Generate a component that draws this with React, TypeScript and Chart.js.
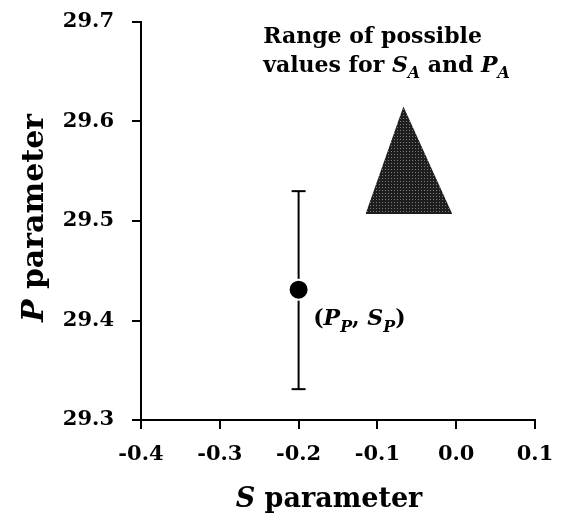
import React, { useEffect, useRef } from "react";
import { Chart, registerables } from "chart.js";

Chart.register(...registerables);

// ---- data ----
const xTickValues = [-0.4, -0.3, -0.2, -0.1, 0.0, 0.1];
const yTickValues = [29.3, 29.4, 29.5, 29.6, 29.7];
const triangleS = [-0.115, -0.067, -0.005];
const triangleP = [29.507, 29.615, 29.507];
const pointS = [-0.2];
const pointP = [29.431];
const errorLow = [29.331];
const errorHigh = [29.53];

const FONT = "'DejaVu Serif', serif";

type Part = { t: string; italic?: boolean; sub?: boolean };

function partsWidth(ctx: CanvasRenderingContext2D, parts: Part[], size: number) {
  let w = 0;
  for (const p of parts) {
    const s = p.sub ? size * 0.72 : size;
    ctx.font = `${p.italic ? "italic " : ""}bold ${s}px ${FONT}`;
    w += ctx.measureText(p.t).width;
  }
  return w;
}

function drawParts(ctx: CanvasRenderingContext2D, parts: Part[], x: number, y: number, size: number) {
  let cx = x;
  ctx.textBaseline = "alphabetic";
  ctx.textAlign = "left";
  for (const p of parts) {
    const s = p.sub ? size * 0.72 : size;
    ctx.font = `${p.italic ? "italic " : ""}bold ${s}px ${FONT}`;
    ctx.fillText(p.t, cx, y + (p.sub ? size * 0.3 : 0));
    cx += ctx.measureText(p.t).width;
  }
}

function makeSpeckle(): CanvasPattern | string {
  const c = document.createElement("canvas");
  c.width = 3;
  c.height = 3;
  const g = c.getContext("2d");
  if (!g) return "#333";
  g.fillStyle = "#1e1e1e";
  g.fillRect(0, 0, 3, 3);
  g.fillStyle = "#7a7a7a";
  g.fillRect(1, 1, 1, 1);
  const p = g.createPattern(c, "repeat");
  return p || "#333";
}

const textPlugin = {
  id: "textPlugin",
  afterDraw(chart: any) {
    const ctx: CanvasRenderingContext2D = chart.ctx;
    const xs = chart.scales.x;
    const ys = chart.scales.y;
    const area = chart.chartArea;
    ctx.save();
    ctx.fillStyle = "#000";

    // x axis title
    const xt: Part[] = [{ t: "S", italic: true }, { t: " parameter" }];
    const xsz = 27;
    const xw = partsWidth(ctx, xt, xsz);
    drawParts(ctx, xt, (area.left + area.right) / 2 - 9 - xw / 2, 507, xsz);

    // y axis title
    const yt: Part[] = [{ t: "P", italic: true }, { t: " parameter" }];
    const ysz = 30;
    const yw = partsWidth(ctx, yt, ysz);
    ctx.save();
    ctx.translate(43, (area.top + area.bottom) / 2 - 3);
    ctx.rotate(-Math.PI / 2);
    drawParts(ctx, yt, -yw / 2, 0, ysz);
    ctx.restore();

    // annotation: range of possible values
    const asz = 22;
    const ax = xs.getPixelForValue(-0.245);
    drawParts(ctx, [{ t: "Range of possible" }], ax, ys.getPixelForValue(29.679), asz);
    drawParts(
      ctx,
      [
        { t: "values for " },
        { t: "S", italic: true },
        { t: "A", italic: true, sub: true },
        { t: " and " },
        { t: "P", italic: true },
        { t: "A", italic: true, sub: true },
      ],
      ax,
      ys.getPixelForValue(29.65),
      asz
    );

    // annotation: point label
    drawParts(
      ctx,
      [
        { t: "(" },
        { t: "P", italic: true },
        { t: "P", italic: true, sub: true },
        { t: ", " },
        { t: "S", italic: true },
        { t: "P", italic: true, sub: true },
        { t: ")" },
      ],
      xs.getPixelForValue(-0.1815),
      ys.getPixelForValue(29.395),
      22
    );
    ctx.restore();
  },
};

export default function App() {
  const ref = useRef<HTMLCanvasElement | null>(null);

  useEffect(() => {
    if (!ref.current) return;
    const tickFont = { family: FONT, size: 21, weight: "bold" as const };
    const chart = new Chart(ref.current, {
      type: "line",
      data: {
        datasets: [
          {
            type: "scatter",
            data: pointS.map((s, i) => ({ x: s, y: pointP[i] })),
            pointRadius: 10,
            pointHoverRadius: 10,
            backgroundColor: "#000",
            borderColor: "#fff",
            borderWidth: 2,
          } as any,
          {
            type: "line",
            data: [
              { x: pointS[0], y: errorLow[0] },
              { x: pointS[0], y: errorHigh[0] },
            ],
            borderColor: "#000",
            borderWidth: 2,
            pointStyle: "line",
            pointRadius: 7,
            pointBorderWidth: 2,
            pointBorderColor: "#000",
            fill: false,
          } as any,
          {
            type: "line",
            data: triangleS.map((s, i) => ({ x: s, y: triangleP[i] })),
            borderColor: "rgba(0,0,0,0)",
            borderWidth: 0,
            pointRadius: 0,
            backgroundColor: makeSpeckle(),
            fill: { value: triangleP[0] },
            tension: 0,
          } as any,
        ],
      },
      options: {
        responsive: false,
        animation: false,
        layout: { padding: { top: 22, right: 28, left: 0, bottom: 0 } },
        plugins: { legend: { display: false }, tooltip: { enabled: false } },
        scales: {
          x: {
            type: "linear",
            min: -0.4,
            max: 0.1,
            afterBuildTicks: (s: any) => {
              s.ticks = xTickValues.map((v) => ({ value: v }));
            },
            afterFit: (s: any) => {
              s.height = 100;
              s.paddingLeft = 0;
              s.paddingRight = 0;
            },
            ticks: {
              color: "#000",
              font: tickFont,
              padding: 13,
              maxRotation: 0,
              callback: (v: any) => (Math.abs(Number(v)) < 1e-9 ? 0 : Number(v)).toFixed(1),
            },
            grid: {
              drawOnChartArea: false,
              drawTicks: true,
              tickLength: 9,
              color: "#000",
              lineWidth: 2,
            },
            border: { display: true, color: "#000", width: 2 },
          },
          y: {
            type: "linear",
            min: 29.3,
            max: 29.7,
            afterBuildTicks: (s: any) => {
              s.ticks = yTickValues.map((v) => ({ value: v }));
            },
            afterFit: (s: any) => {
              s.width = 141;
              s.paddingTop = 0;
              s.paddingBottom = 0;
            },
            ticks: {
              color: "#000",
              font: tickFont,
              padding: 18,
              callback: (v: any) => Number(v).toFixed(1),
            },
            grid: {
              drawOnChartArea: false,
              drawTicks: true,
              tickLength: 9,
              color: "#000",
              lineWidth: 2,
            },
            border: { display: true, color: "#000", width: 2 },
          },
        },
      },
      plugins: [textPlugin],
    } as any);
    return () => chart.destroy();
  }, []);

  return (
    <div style={{ position: "absolute", left: 0, top: 0, width: 563, height: 520, background: "#fff" }}>
      <canvas ref={ref} width={563} height={520} style={{ display: "block" }} />
    </div>
  );
}
